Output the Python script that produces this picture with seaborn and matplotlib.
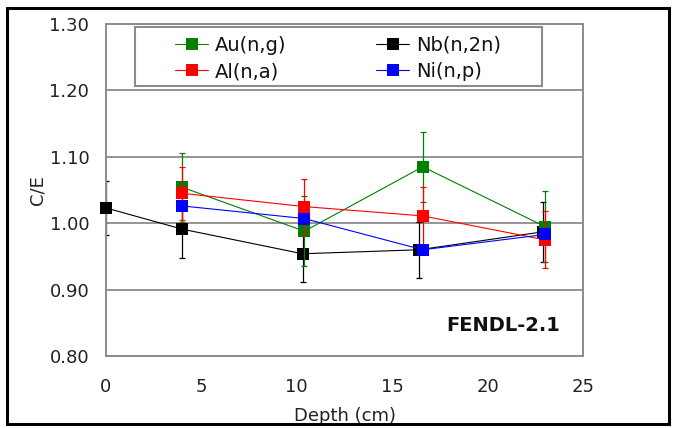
import matplotlib
matplotlib.use("Agg")
import matplotlib.pyplot as plt
from matplotlib.patches import Rectangle
import seaborn as sns
import pandas as pd

# Calculated-to-experimental ratios versus depth in the assembly
depth_nb = [0.0, 4.0, 10.3, 16.4, 22.9]
ce_nb = [1.023, 0.991, 0.954, 0.960, 0.987]
err_nb = [0.041, 0.043, 0.043, 0.042, 0.045]

depth = [4.0, 10.4, 16.6, 23.0]
ce_au = [1.054, 0.988, 1.085, 0.995]
err_au = [0.052, 0.053, 0.053, 0.054]
ce_al = [1.045, 1.025, 1.011, 0.975]
err_al = [0.040, 0.041, 0.044, 0.043]
ce_ni = [1.026, 1.007, 0.960, 0.983]

reactions = ["Au(n,g)", "Al(n,a)", "Nb(n,2n)", "Ni(n,p)"]
colors = {"Au(n,g)": "#008000", "Al(n,a)": "#ff0000",
          "Nb(n,2n)": "#000000", "Ni(n,p)": "#0000ff"}

x_ticks = [0, 5, 10, 15, 20, 25]
y_ticks = [0.80, 0.90, 1.00, 1.10, 1.20, 1.30]

frames = [
    pd.DataFrame({"depth": depth_nb, "ce": ce_nb, "err": err_nb, "reaction": "Nb(n,2n)"}),
    pd.DataFrame({"depth": depth, "ce": ce_au, "err": err_au, "reaction": "Au(n,g)"}),
    pd.DataFrame({"depth": depth, "ce": ce_al, "err": err_al, "reaction": "Al(n,a)"}),
    pd.DataFrame({"depth": depth, "ce": ce_ni, "err": [None] * len(depth), "reaction": "Ni(n,p)"}),
]

sns.set_theme(style="white")
plt.rcParams["font.family"] = ["DejaVu Sans"]

fig = plt.figure(figsize=(6.73, 4.28), dpi=100)
ax = fig.add_axes([0.1575, 0.1682, 0.7088, 0.7757])

handles = {}
for z, df in enumerate(frames):
    name = df["reaction"].iloc[0]
    c = colors[name]
    if df["err"].notna().any():
        ax.errorbar(df["depth"], df["ce"], yerr=df["err"].astype(float), fmt="none",
                    ecolor=c, elinewidth=0.9, capsize=2.5, capthick=0.9, zorder=2 + z)
    sns.lineplot(data=df, x="depth", y="ce", ax=ax, color=c, linewidth=0.8,
                 marker="s", markersize=8.5, markeredgewidth=0, sort=False,
                 estimator=None, zorder=3 + z, clip_on=False)
    handles[name] = plt.Line2D([], [], color=c, linewidth=0.8, marker="s",
                               markersize=8, markeredgewidth=0)

ax.set_xlim(0, 25)
ax.set_ylim(0.80, 1.30)
ax.set_xticks(x_ticks)
ax.set_yticks(y_ticks)
ax.set_yticklabels([f"{v:.2f}" for v in y_ticks])
ax.tick_params(axis="both", which="major", direction="inout", length=6, width=1.2,
               color="#8c8c8c", labelsize=13, labelcolor="#222222")
ax.tick_params(axis="y", pad=9)
ax.tick_params(axis="x", pad=13)
ax.grid(axis="y", color="#8c8c8c", linewidth=1.3)
ax.set_axisbelow(True)
for s in ax.spines.values():
    s.set_color("#8c8c8c")
    s.set_linewidth(1.4)

ax.set_xlabel("Depth (cm)", fontsize=13, color="#222222", labelpad=8)
ax.set_ylabel("C/E", fontsize=13, color="#222222", labelpad=2)

ax.text(0.953, 0.093, "FENDL-2.1", transform=ax.transAxes, ha="right", va="center",
        fontsize=14, fontweight="bold", color="#111111")

# Legend box
fig.patches.append(Rectangle((135 / 673, 1 - 86 / 428), 407 / 673, 59 / 428,
                             transform=fig.transFigure, facecolor="white",
                             edgecolor="#8c8c8c", linewidth=1.5, zorder=5))
leg = fig.legend([handles[r] for r in reactions], reactions, loc="center",
                 bbox_to_anchor=(338 / 673, 1 - 58.5 / 428), ncol=2, frameon=False,
                 fontsize=14, handlelength=1.7, handletextpad=0.35,
                 columnspacing=4.6, labelspacing=0.38)
leg.set_zorder(6)
for t in leg.get_texts():
    t.set_color("#111111")

# Outer border
fig.patches.append(Rectangle((7 / 673, 4 / 428), 662 / 673, 416 / 428,
                             transform=fig.transFigure, facecolor="none",
                             edgecolor="black", linewidth=2.2, zorder=10))

fig.savefig("out.png", dpi=100)
